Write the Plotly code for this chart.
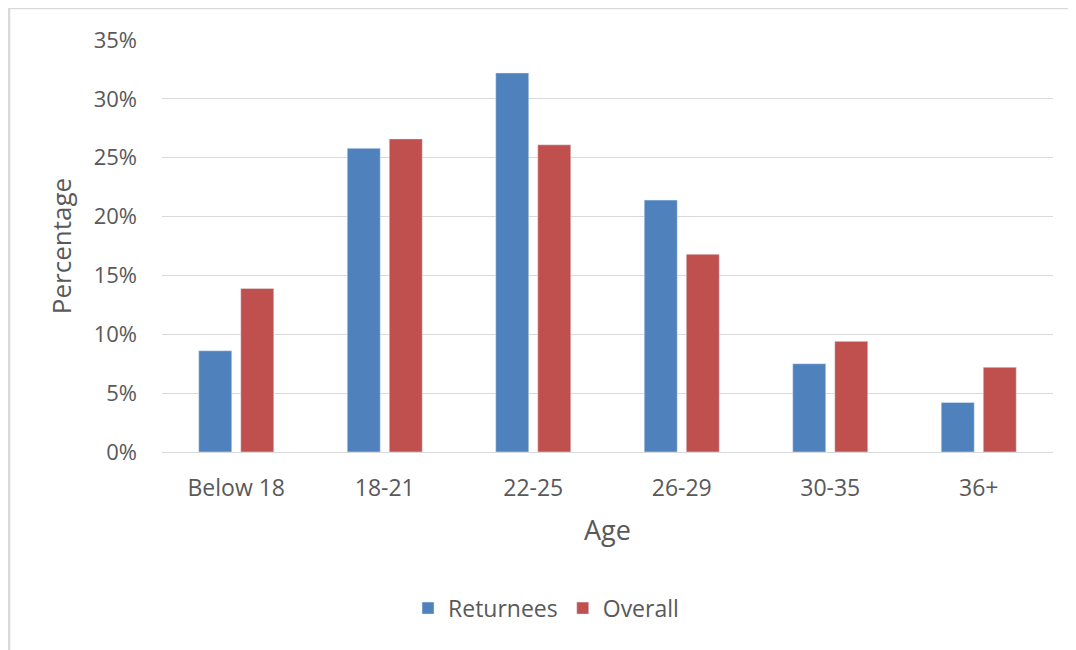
import plotly.graph_objects as go

categories = ["Below 18", "18-21", "22-25", "26-29", "30-35", "36+"]
returnees = [8.6, 25.8, 32.2, 21.4, 7.5, 4.2]
overall = [13.9, 26.6, 26.1, 16.8, 9.4, 7.2]
tick_vals = [0, 5, 10, 15, 20, 25, 30, 35]
tick_text = ["0%", "5%", "10%", "15%", "20%", "25%", "30%", "35%"]

FONT = "Open Sans"
GRAY = "#595959"

fig = go.Figure()
fig.add_trace(go.Bar(name="Returnees", x=categories, y=returnees, marker_color="#4F81BD"))
fig.add_trace(go.Bar(name="Overall", x=categories, y=overall, marker_color="#C0504D"))

fig.update_layout(
    width=1076, height=650,
    margin=dict(l=154, r=31, t=32, b=206),
    paper_bgcolor="white", plot_bgcolor="white",
    barmode="group", bargap=0.434, bargroupgap=0.214,
    font=dict(family=FONT, color=GRAY, size=22),
    showlegend=True,
    legend=dict(orientation="h", x=0.431, xanchor="center", y=-0.379, yanchor="middle",
                font=dict(size=23, color=GRAY), itemwidth=30, traceorder="normal"),
    xaxis=dict(showgrid=False, showline=False, ticks="", tickfont=dict(size=23, color=GRAY),
               ticklabelstandoff=20,
               title=dict(text="Age", font=dict(size=27, color=GRAY), standoff=19)),
    yaxis=dict(range=[0, 35], tickvals=tick_vals, ticktext=tick_text, showgrid=True,
               gridcolor="#D9D9D9", gridwidth=1, zeroline=True, zerolinecolor="#D9D9D9",
               zerolinewidth=1, showline=False, ticks="", ticklabelstandoff=24,
               tickfont=dict(size=22, color=GRAY),
               title=dict(text="Percentage", font=dict(size=26, color=GRAY), standoff=14)),
    shapes=[
        dict(type="line", xref="paper", yref="paper", x0=-0.172, x1=1.05, y0=1.078, y1=1.078,
             line=dict(color="#D9D9D9", width=3)),
        dict(type="line", xref="paper", yref="paper", x0=-0.172, x1=-0.172, y0=1.078, y1=-0.5,
             line=dict(color="#D9D9D9", width=3)),
    ],
)

fig.write_html("out.html")
